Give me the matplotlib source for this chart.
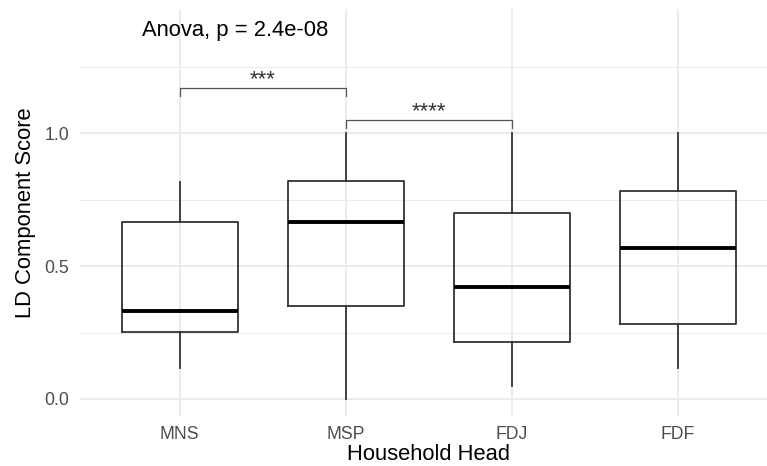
import matplotlib
matplotlib.use("Agg")
import matplotlib.pyplot as plt
from matplotlib.ticker import MultipleLocator, FormatStrFormatter

plt.rcParams["font.family"] = ["Liberation Sans", "DejaVu Sans"]

# five-number summaries
groups = ["MNS", "MSP", "FDJ", "FDF"]
whisker_low = [0.115, 0.0, 0.05, 0.115]
q1 = [0.253, 0.35, 0.216, 0.283]
median = [0.331, 0.667, 0.42, 0.569]
q3 = [0.665, 0.82, 0.70, 0.783]
whisker_high = [0.818, 1.0, 1.0, 1.0]

# significance brackets: (from group, to group, bracket height, label)
brackets = [(1, 2, 1.169, "***"), (2, 3, 1.05, "****")]
anova_label = "Anova, p = 2.4e-08"

stats = []
for i, g in enumerate(groups):
    stats.append({"label": g, "whislo": whisker_low[i], "q1": q1[i], "med": median[i],
                  "q3": q3[i], "whishi": whisker_high[i], "fliers": []})

fig = plt.figure(figsize=(7.67, 4.66), dpi=100)
W, H = 767, 466
ax = fig.add_axes([80 / W, (H - 416) / H, 697.8 / W, 407 / H])

line_col = "#333333"
ax.bxp(stats, positions=range(1, len(groups) + 1), widths=0.7, showcaps=False,
       boxprops=dict(color=line_col, linewidth=1.3),
       whiskerprops=dict(color=line_col, linewidth=1.3),
       medianprops=dict(color="black", linewidth=2.8, solid_capstyle="butt"),
       zorder=3)

ax.set_xlim(0.4, 4.6)
ax.set_ylim(-0.064, 1.468)
ax.yaxis.set_major_locator(MultipleLocator(0.5))
ax.yaxis.set_minor_locator(MultipleLocator(0.25))
ax.yaxis.set_major_formatter(FormatStrFormatter("%.1f"))

ax.grid(which="major", color="#EBEBEB", linewidth=1.4, zorder=0)
ax.grid(which="minor", axis="y", color="#EBEBEB", linewidth=0.7, zorder=0)
ax.set_axisbelow(True)
for s in ax.spines.values():
    s.set_visible(False)
ax.tick_params(which="both", length=0)
ax.tick_params(axis="x", pad=7, labelsize=12.7, labelcolor="#4D4D4D")
ax.tick_params(axis="y", pad=8, labelsize=12.7, labelcolor="#4D4D4D")

ax.set_xlabel("Household Head", fontsize=15.8, labelpad=1)
ax.set_ylabel("LD Component Score", fontsize=15.8, labelpad=6)

for a, b, y, lab in brackets:
    ax.plot([a, a, b, b], [y - 0.03, y, y, y - 0.03], color="#555555", linewidth=0.9,
            zorder=4)
    ax.text((a + b) / 2, y + 0.012, lab, ha="center", va="baseline", fontsize=15.8,
            color="#333333")

ax.text(0.771, 1.367, anova_label, ha="left", va="baseline", fontsize=15.8,
        color="black")

fig.savefig("out.png", dpi=100)
